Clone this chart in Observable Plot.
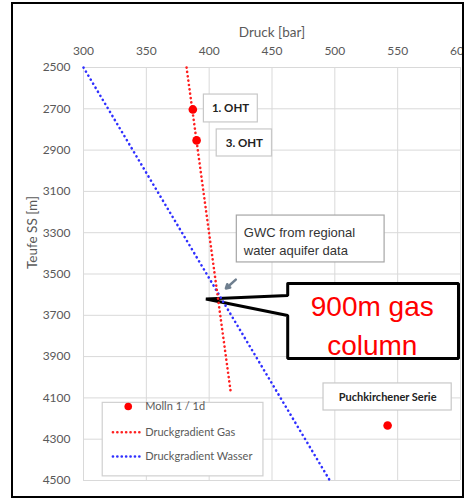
<!DOCTYPE html>
<html><head><meta charset="utf-8">
<script src="https://cdn.jsdelivr.net/npm/d3@7"></script>
<script src="https://cdn.jsdelivr.net/npm/@observablehq/plot@0.6"></script>
<style>
body{margin:0;background:#fff;}
#frame{position:absolute;left:11px;top:2px;width:449px;height:492px;border:2px solid #000;overflow:hidden;background:#fff;}
#frame svg{position:absolute;left:-13px;top:-4px;max-width:none !important;width:475px !important;height:498px !important;}
</style></head><body><div id="frame"></div>
<script>
// Pressure test points (Molln 1 / 1d)
const testLabels = ["1. OHT", "3. OHT", "Puchkirchener Serie"];
const testPressure = [387, 390, 542];
const testDepth = [2703, 2853, 4234];
// Pressure gradients
const gasPressure = [382, 417];
const gasDepth = [2500, 4065];
const waterPressure = [300, 496];
const waterDepth = [2500, 4500];
// Axis ticks
const xTicks = [300, 350, 400, 450, 500, 550, 600];
const yTicks = [2500, 2700, 2900, 3100, 3300, 3500, 3700, 3900, 4100, 4300, 4500];
const legendLabels = ["Molln 1 / 1d", "Druckgradient Gas", "Druckgradient Wasser"];

const points = testLabels.map((l, i) => ({label: l, p: testPressure[i], d: testDepth[i]}));
const gas = gasPressure.map((p, i) => ({p, d: gasDepth[i]}));
const water = waterPressure.map((p, i) => ({p, d: waterDepth[i]}));

// annotation boxes (data units)
const labelBoxes = [
  {text: "1. OHT", x1: 395.8, x2: 438.7, y1: 2631, y2: 2766, x: 417, y: 2699},
  {text: "3. OHT", x1: 406, x2: 450, y1: 2800, y2: 2931, x: 428, y: 2866},
  {text: "Puchkirchener Serie", x1: 491, x2: 593, y1: 4030, y2: 4161, x: 542, y: 4096}
];
const gwc = {x1: 422, x2: 539.6, y1: 3217, y2: 3444, x: 427.6, y: 3338, text: "GWC from regional\nwater aquifer data"};
const callout = [
  [462.5, 3546], [598.4, 3546], [598.4, 3909], [462.5, 3909], [462.5, 3701], [397.4, 3621], [462.5, 3604], [462.5, 3546]
].map(([p, d]) => ({p, d}));
const legend = {x1: 315.3, x2: 443.2, y1: 4124, y2: 4480};
const legendRows = [4142, 4266, 4384];

const font = "Lato, 'Open Sans', sans-serif";
const chart = Plot.plot({
  width: 475, height: 498,
  marginLeft: 83, marginRight: 15, marginTop: 67, marginBottom: 18,
  style: {fontFamily: font, background: "transparent", maxWidth: "none"},
  x: {domain: [300, 600]},
  y: {domain: [2500, 4500], reverse: true},
  marks: [
    Plot.gridX(xTicks, {stroke: "#d9d9d9", strokeOpacity: 1, strokeWidth: 1}),
    Plot.gridY(yTicks, {stroke: "#d9d9d9", strokeOpacity: 1, strokeWidth: 1}),
    Plot.axisX(xTicks, {anchor: "top", tickSize: 0, tickPadding: 13, label: null, fontSize: 12, color: "#595959", tickFormat: d => String(d)}),
    Plot.axisY(yTicks, {anchor: "left", tickSize: 0, tickPadding: 13, label: null, fontSize: 12, color: "#595959", tickFormat: d => String(d)}),
    Plot.text(["Druck [bar]"], {frameAnchor: "top", dy: -40, fontSize: 13.5, fill: "#595959"}),
    Plot.text(["Teufe SS [m]"], {frameAnchor: "left", dx: -51, dy: -5, rotate: -90, fontSize: 13.5, fill: "#595959"}),
    // callout
    Plot.line(callout, {x: "p", y: "d", fill: "white", stroke: "black", strokeWidth: 3, strokeLinejoin: "miter"}),
    Plot.text(["900m gas\ncolumn"], {x: 529.8, y: 3737, fontSize: 28, lineHeight: 1.39, fill: "#ff0000", fontFamily: "'Liberation Sans', Arial, sans-serif"}),
    // gradients
    Plot.line(water, {x: "p", y: "d", stroke: "#2f2fff", strokeWidth: 2.6, strokeDasharray: "0.1 4.6", strokeLinecap: "round"}),
    Plot.line(gas, {x: "p", y: "d", stroke: "#ff2020", strokeWidth: 2.6, strokeDasharray: "0.1 4.3", strokeLinecap: "round"}),
    Plot.dot(points, {x: "p", y: "d", r: 4.3, fill: "#ff0000", stroke: "none"}),
    // label boxes
    Plot.rect(labelBoxes, {x1: "x1", x2: "x2", y1: "y1", y2: "y2", fill: "white", stroke: "#c8c8c8", strokeWidth: 1.2}),
    Plot.text(labelBoxes, {x: "x", y: "y", text: "text", fontWeight: "bold", fontSize: d => d.text.length > 10 ? 11 : 11.5, fill: "#222"}),
    Plot.rect([gwc], {x1: "x1", x2: "x2", y1: "y1", y2: "y2", fill: "white", stroke: "#a6a6a6", strokeWidth: 1.2}),
    Plot.text([gwc], {x: "x", y: "y", text: "text", textAnchor: "start", fontSize: 13, lineHeight: 1.4, fill: "#333", fontFamily: "'Liberation Sans', Arial, sans-serif"}),
    Plot.arrow([{}], {x1: 421.2, y1: 3527, x2: 413.3, y2: 3570, stroke: "#6f7f8f", strokeWidth: 2.5, headLength: 6}),
    // legend
    Plot.rect([legend], {x1: "x1", x2: "x2", y1: "y1", y2: "y2", fill: "white", stroke: "#d0d0d0", strokeWidth: 1.2}),
    Plot.dot([legendRows[0]], {x: 335.6, y: d => d, r: 3.8, fill: "#ff0000", stroke: "none"}),
    Plot.link([legendRows[1]], {x1: 323.4, x2: 345, y1: d => d, y2: d => d, stroke: "#ff2020", strokeWidth: 2.6, strokeDasharray: "0.1 4.3", strokeLinecap: "round"}),
    Plot.link([legendRows[2]], {x1: 323.4, x2: 345, y1: d => d, y2: d => d, stroke: "#2f2fff", strokeWidth: 2.6, strokeDasharray: "0.1 4.3", strokeLinecap: "round"}),
    Plot.text(legendLabels, {x: 349.1, y: (d, i) => legendRows[i], textAnchor: "start", fontSize: 11, fill: "#595959"})
  ]
});
document.getElementById("frame").appendChild(chart);
</script></body></html>
